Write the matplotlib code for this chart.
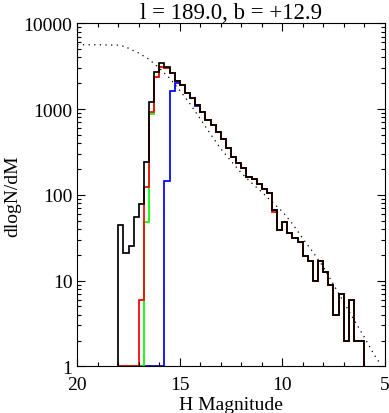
import numpy as np
import matplotlib
matplotlib.use('Agg')
import matplotlib.pyplot as plt
from matplotlib.ticker import FixedLocator, LogLocator, NullFormatter

plt.rcParams['font.family'] = ['Liberation Serif', 'DejaVu Serif']

# histogram bins, bright end (H=18) to faint end (H=6), 0.25 mag wide
edges = np.arange(18.0, 5.99, -0.25)

total = [44, 21, 25, 55, 79, 241, 1213, 2723, 3470, 3117,
         2630, 2138, 1897, 1560, 1364, 1130, 927, 754, 659, 541,
         452, 352, 276, 232, 205, 162, 154, 135, 118, 105,
         66, 39, 48, 36, 31, 28, 19.5, 17, 10, 17,
         12.5, 9, 4, 7, 2, 6, 2, 2]

red = [0, 0, 0, 0, 6, 123, 927, 2381, 3117, 2976] + total[10:30] + [63] + total[31:]
green = [0, 0, 0, 0, 0, 48, 879] + red[7:]
blue = [0, 0, 0, 0, 0, 0, 0, 0, 0, 144, 1633, 2024] + total[12:15] + [1090] + total[16:]

# dotted model curve
model_mag = [20.0, 19.0, 18.0, 17.6, 17.5, 17.0, 16.5, 16.0, 15.5, 15.0,
             14.5, 14.0, 13.5, 13.0, 12.5, 12.0, 11.5, 11.0, 10.5, 10.0,
             9.5, 9.0, 8.5, 8.0, 7.5, 7.0, 6.5, 6.0, 5.5, 5.25]
model_n = [5620, 5620, 5560, 5300, 5100, 4500, 3800, 3000, 2300, 1650,
           1150, 770, 510, 345, 248, 180, 138, 108, 83, 64,
           46, 31, 21.5, 14.5, 9.0, 5.6, 3.5, 2.2, 1.35, 1.1]

fig = plt.figure(figsize=(3.89, 4.14), dpi=100)
ax = fig.add_axes([0.1987, 0.1126, 0.7903, 0.8287])

ax.plot(model_mag, model_n, color='black', lw=0.9, linestyle=(0, (1, 3.5)))

for vals, col in [(blue, '#0000ff'), (green, '#00ff00'), (red, '#ff0000'), (total, 'black')]:
    ax.stairs(np.maximum(vals, 1), edges, baseline=1, color=col, lw=1.25, clip_on=False)

ax.set_yscale('log')
ax.set_xlim(20, 5)
ax.set_ylim(1, 10000)

ax.xaxis.set_major_locator(FixedLocator([20, 15, 10, 5]))
ax.xaxis.set_minor_locator(FixedLocator(np.arange(5, 21, 1)))
ax.yaxis.set_major_locator(FixedLocator([1, 10, 100, 1000, 10000]))
ax.yaxis.set_minor_locator(LogLocator(base=10, subs=np.arange(2, 10)))
ax.yaxis.set_minor_formatter(NullFormatter())
ax.set_yticklabels(['1', '10', '100', '1000', '10000'])
ax.set_xticklabels(['20', '15', '10', '5'])

ax.tick_params(which='both', direction='in', top=True, right=True, labelsize=14, width=0.8)
ax.tick_params(axis='x', which='major', length=5.5, pad=7)
ax.tick_params(axis='y', which='major', length=5.5, pad=3.5)
ax.tick_params(which='minor', length=3)
for s in ax.spines.values():
    s.set_linewidth(0.8)

ax.set_xlabel('H Magnitude', fontsize=14, labelpad=2)
ax.set_ylabel('dlogN/dM', fontsize=14, labelpad=2)
ax.set_title('l = 189.0, b = +12.9', fontsize=16.5, pad=4)

fig.savefig('out.png', dpi=100)
